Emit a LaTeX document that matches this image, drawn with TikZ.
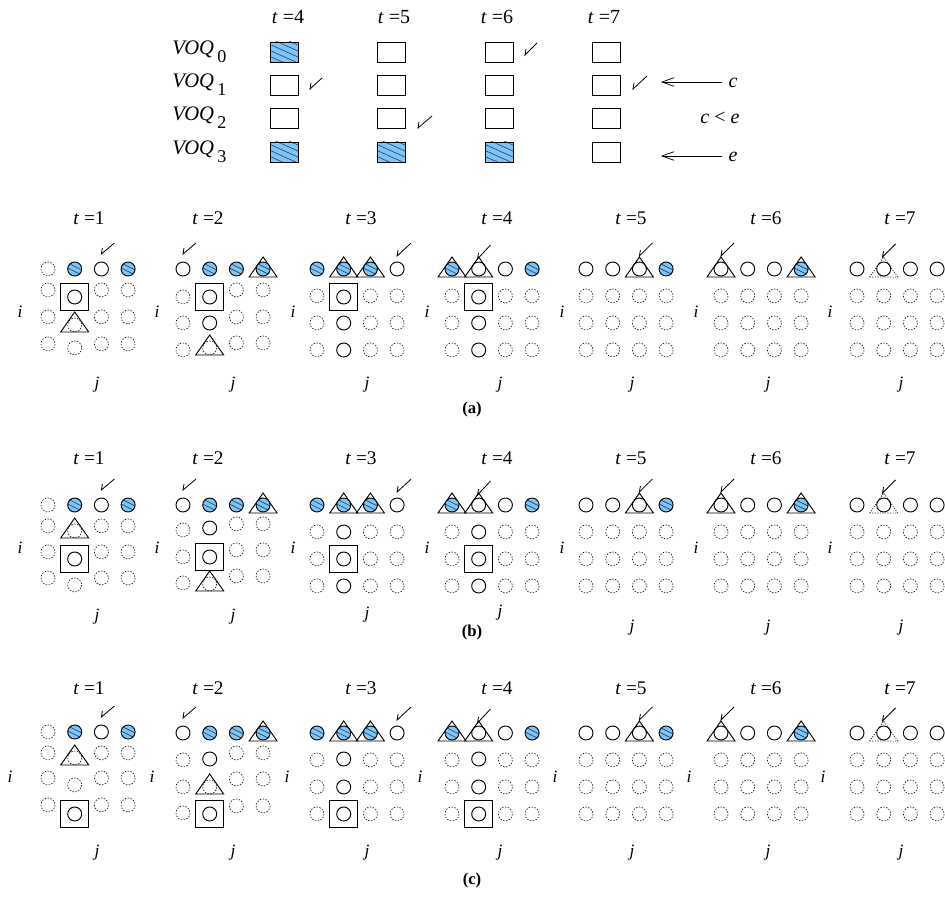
\documentclass[tikz,border=0pt]{standalone}
\usepackage{fontspec}
\setmainfont{Liberation Serif}
\usetikzlibrary{arrows.meta}
\definecolor{bfill}{RGB}{125,197,245}
\definecolor{hline}{RGB}{35,60,110}
\tikzset{
  dc/.style={line width=0.5pt, dash pattern=on 1.1pt off 1.1pt, black!90},
  sc/.style={line width=0.7pt, black},
  shp/.style={line width=0.7pt, black},
  dshp/.style={line width=0.55pt, black!85, dash pattern=on 0.9pt off 1pt},
  ck/.style={line width=0.6pt, black},
  tl/.style={inner sep=0pt, font=\fontsize{15}{16}\selectfont},
  gl/.style={inner sep=0pt, font=\fontsize{14.5}{16}\selectfont},
  ij/.style={inner sep=0pt, font=\fontsize{13}{15}\selectfont\itshape},
  capt/.style={inner sep=0pt, font=\fontsize{12.5}{14}\selectfont\bfseries},
  arr/.style={line width=0.55pt, -{Straight Barb[length=9pt,width=6.5pt]}},
}
% cells (local coordinates, px, y downward)
\newcommand\cD[2]{\draw[dc] (#1,#2) circle[radius=7];}
\newcommand\cS[2]{\draw[sc] (#1,#2) circle[radius=7];}
\newcommand\cB[2]{\begin{scope}[shift={(#1,#2)}]
  \begin{scope}\clip (0,0) circle[radius=7];
   \fill[bfill] (-8,-8) rectangle (8,8);
   \draw[hline,line width=0.45pt] (-8,-6.5) -- (8,1.5) (-8,-1.5) -- (8,6.5);
  \end{scope}
  \draw[sc] (0,0) circle[radius=7];\end{scope}}
\newcommand\triT[2]{\draw[shp] (#1,#2) ++(-14,8) -- ++(28,0) -- ++(-14,-20) -- cycle;}
\newcommand\cTS[2]{\triT{#1}{#2}\cS{#1}{#2}}
\newcommand\cTB[2]{\triT{#1}{#2}\cB{#1}{#2}}
\newcommand\cTdS[2]{\draw[dshp] (#1,#2) ++(-14,8) -- ++(28,0) -- ++(-14,-20) -- cycle;\cS{#1}{#2}}
\newcommand\cTD[2]{\draw[shp] (#1,#2) ++(-14,7) -- ++(28,0) -- ++(-14,-20) -- cycle;\cD{#1}{#2}}
\newcommand\cSq[2]{\draw[shp] (#1,#2) ++(-14,-13.5) rectangle ++(28,27);\cS{#1}{#2}}
\newcommand\chk[4]{\draw[ck] (#1,#2) ++(1,-6) -- ++(-1,6) -- ++(#3,#4);}
% table boxes
\newcommand\pbx[2]{\draw[shp] (#1,#2) ++(-14,-10) rectangle ++(28,20);}
\newcommand\hbx[2]{\begin{scope}[shift={(#1,#2)}]
  \begin{scope}\clip (-14,-10) rectangle (14,10);
   \fill[bfill] (-14,-10) rectangle (14,10);
   \foreach \k in {-22,-16,...,22} \draw[hline,line width=0.45pt] (-15,\k-10) -- (15,\k+3.5);
  \end{scope}
  \draw[shp] (-14,-10) rectangle (14,10);\end{scope}}
% top rows of the grids
\newcommand\rowI{\cD{0}{0}\cB{26.7}{0}\cS{53.4}{0}\cB{80.1}{0}\chk{53.4}{-15}{13}{-11}}
\newcommand\rowII{\cS{0}{0}\cB{26.7}{0}\cB{53.4}{0}\cTB{80.1}{0}\chk{0}{-15}{13}{-11}}
\newcommand\rowIII{\cB{0}{0}\cTB{26.7}{0}\cTB{53.4}{0}\cS{80.1}{0}\chk{80.1}{-13}{14}{-13}}
\newcommand\rowIV{\cTB{0}{0}\cTS{26.7}{0}\cS{53.4}{0}\cB{80.1}{0}\chk{25.5}{-10}{13}{-14}}
\newcommand\rowV{\cS{0}{0}\cS{26.7}{0}\cTS{53.4}{0}\cB{80.1}{0}\chk{53.4}{-13}{13}{-13}}
\newcommand\rowVI{\cTS{0}{0}\cS{26.7}{0}\cS{53.4}{0}\cTB{80.1}{0}\chk{0}{-13}{13}{-13}}
\newcommand\rowVII{\cS{0}{0}\cTdS{26.7}{0}\cS{53.4}{0}\cS{80.1}{0}\chk{25.5}{-12}{13}{-13}}
\newcommand\dcol[4]{\cD{#1}{#2}\cD{#1}{#3}\cD{#1}{#4}}
\newcommand\alldash{\dcol{0}{27}{54}{81}\dcol{26.7}{27}{54}{81}\dcol{53.4}{27}{54}{81}\dcol{80.1}{27}{54}{81}}
\newcommand\sidedash{\dcol{0}{27}{54}{81}\dcol{53.4}{27}{54}{81}\dcol{80.1}{27}{54}{81}}

\begin{document}
\begin{tikzpicture}[x=0.75pt,y=-0.75pt]
\useasboundingbox (0,0) rectangle (945,905);

% ---------------- table ----------------
\node[tl] (h4) at (288,17) {\textit{t} =4};
\node[tl] (h5) at (394,17) {\textit{t} =5};
\node[tl] (h6) at (497,17) {\textit{t} =6};
\node[tl] (h7) at (604,17) {\textit{t} =7};
\foreach \r/\y in {0/52,1/85,2/118,3/152}{
  \node[tl, font=\fontsize{15.5}{16}\selectfont, anchor=west] (voq\r) at (172,\y)
   {\textit{VOQ}\kern2.5pt\raisebox{-6pt}{\fontsize{13.5}{14}\selectfont\r}};
}
\hbx{284}{52}\pbx{391}{52}\pbx{499}{52}\pbx{606}{52}
\pbx{284}{85}\pbx{391}{85}\pbx{499}{85}\pbx{606}{85}
\pbx{284}{118}\pbx{391}{118}\pbx{499}{118}\pbx{606}{118}
\hbx{284}{152}\hbx{391}{152}\hbx{499}{152}\pbx{606}{152}
\chk{525}{55}{12}{-12}
\chk{310}{89}{12}{-11}
\chk{418}{128}{14}{-12}
\chk{633}{89}{14}{-13}
\node[tl] (lc) at (733,83) {\textit{c}};
\node[tl] (lce) at (720,118) {\textit{c} < \textit{e}};
\node[tl] (le) at (733,157) {\textit{e}};
\coordinate (ac) at (661,82);
\coordinate (ae) at (661,156);
\draw[arr] (lc.west) ++(-6,-1) -- (ac);
\draw[arr] (le.west) ++(-6,-1) -- (ae);

% ---------------- panel (a) ----------------
\begin{scope}[shift={(48,269)}]
 \rowI \dcol{0}{21}{48}{75}\dcol{53.4}{21}{48}{75}\dcol{80.1}{21}{48}{75}
 \cSq{26.7}{28}\cTD{26.7}{56}\cD{26.7}{79}
\end{scope}
\begin{scope}[shift={(183,269)}]
 \rowII \dcol{0}{28}{54}{81}\dcol{53.4}{21}{48}{74}\dcol{80.1}{21}{48}{74}
 \cSq{26.7}{28}\cS{26.7}{54}\cTD{26.7}{79}
\end{scope}
\begin{scope}[shift={(317,269)}]
 \rowIII \sidedash \cSq{26.7}{28}\cS{26.7}{54}\cS{26.7}{81}
\end{scope}
\begin{scope}[shift={(452,269)}]
 \rowIV \sidedash \cSq{26.7}{28}\cS{26.7}{54}\cS{26.7}{81}
\end{scope}
\begin{scope}[shift={(586,269)}] \rowV \alldash \end{scope}
\begin{scope}[shift={(721,269)}] \rowVI \alldash \end{scope}
\begin{scope}[shift={(857,269)}] \rowVII \alldash \end{scope}
\foreach \n/\tx/\ix/\jx in {1/89/20/97,2/208/157/233,3/361/293/367,4/497/427/500,5/631/562/632,6/766/696/768,7/900/830/901}{
  \node[gl] (at\n) at (\tx,218) {\textit{t} =\n};
  \node[ij] (ai\n) at (\ix,312) {i};
  \node[ij] (aj\n) at (\jx,385) {j};
}
\node[capt] (capa) at (472,409) {(a)};

% ---------------- panel (b) ----------------
\begin{scope}[shift={(48,505)}]
 \rowI \dcol{0}{21}{47}{73}\dcol{53.4}{21}{47}{73}\dcol{80.1}{21}{47}{73}
 \cTD{26.7}{26}\cSq{26.7}{54}\cD{26.7}{80}
\end{scope}
\begin{scope}[shift={(183,505)}]
 \rowII \dcol{0}{25}{52}{78}\dcol{53.4}{19}{45}{71}\dcol{80.1}{19}{45}{71}
 \cS{26.7}{23}\cSq{26.7}{52}\cTD{26.7}{79}
\end{scope}
\begin{scope}[shift={(317,505)}]
 \rowIII \sidedash \cS{26.7}{27}\cSq{26.7}{54}\cS{26.7}{81}
\end{scope}
\begin{scope}[shift={(452,505)}]
 \rowIV \sidedash \cS{26.7}{27}\cSq{26.7}{54}\cS{26.7}{81}
\end{scope}
\begin{scope}[shift={(586,505)}] \rowV \alldash \end{scope}
\begin{scope}[shift={(721,505)}] \rowVI \alldash \end{scope}
\begin{scope}[shift={(857,505)}] \rowVII \alldash \end{scope}
\foreach \n/\tx/\ix/\jx/\jy in {1/89/20/97/617,2/208/157/233/617,3/361/293/367/615,4/497/427/500/613,5/631/562/632/628,6/766/696/768/628,7/900/830/901/628}{
  \node[gl] (bt\n) at (\tx,458) {\textit{t} =\n};
  \node[ij] (bi\n) at (\ix,548) {i};
  \node[ij] (bj\n) at (\jx,\jy) {j};
}
\node[capt] (capb) at (472,632) {(b)};

% ---------------- panel (c) ----------------
\begin{scope}[shift={(48,732)}]
 \rowI \dcol{0}{21}{46}{73}\dcol{53.4}{21}{46}{73}\dcol{80.1}{21}{46}{73}
 \cTD{26.7}{26}\cD{26.7}{53}\cSq{26.7}{82}
\end{scope}
\begin{scope}[shift={(183,733)}]
 \rowII \dcol{0}{27}{54}{80}\dcol{53.4}{20}{46}{73}\dcol{80.1}{20}{46}{73}
 \cS{26.7}{26}\cTD{26.7}{54}\cSq{26.7}{81}
\end{scope}
\begin{scope}[shift={(317,733)}]
 \rowIII \sidedash \cS{26.7}{26}\cS{26.7}{54}\cSq{26.7}{81}
\end{scope}
\begin{scope}[shift={(452,733)}]
 \rowIV \sidedash \cS{26.7}{26}\cS{26.7}{54}\cSq{26.7}{81}
\end{scope}
\begin{scope}[shift={(586,733)}] \rowV \alldash \end{scope}
\begin{scope}[shift={(721,733)}] \rowVI \alldash \end{scope}
\begin{scope}[shift={(857,733)}] \rowVII \alldash \end{scope}
\foreach \n/\tx/\ix/\jx in {1/89/10/97,2/208/152/233,3/361/287/367,4/497/420/500,5/631/555/632,6/766/689/768,7/900/823/901}{
  \node[gl] (ct\n) at (\tx,688) {\textit{t} =\n};
  \node[ij] (ci\n) at (\ix,777) {i};
  \node[ij] (cj\n) at (\jx,853) {j};
}
\node[capt] (capc) at (472,880) {(c)};
\end{tikzpicture}
\end{document}
